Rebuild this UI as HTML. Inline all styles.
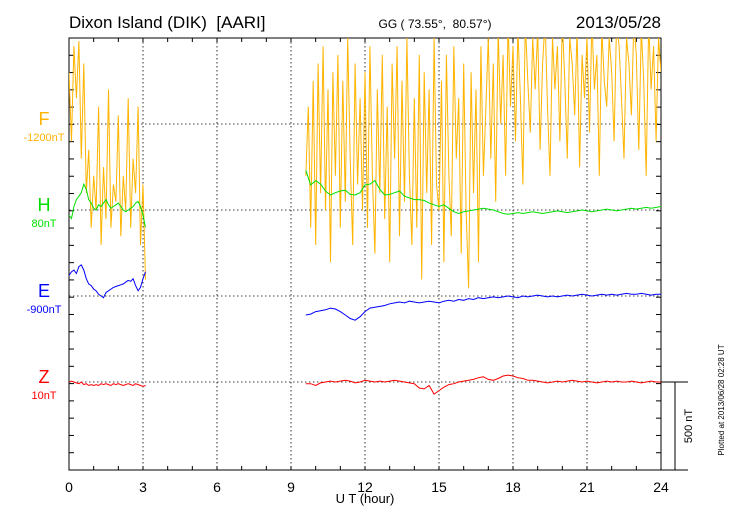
<!DOCTYPE html>
<html><head><meta charset="utf-8"><style>
body{margin:0;background:#fff}
svg{display:block;font-family:"Liberation Sans",sans-serif}
</style></head><body>
<svg id="c" width="730" height="520" viewBox="0 0 730 520" xmlns="http://www.w3.org/2000/svg">
<defs><clipPath id="pa"><rect x="69" y="38" width="592" height="432"/></clipPath></defs>
<text x="69" y="28" font-size="17" xml:space="preserve">Dixon Island (DIK)  [AARI]</text>
<text x="435" y="28" font-size="12" text-anchor="middle" xml:space="preserve">GG ( 73.55°,  80.57°)</text>
<text x="661" y="28" font-size="17" text-anchor="end">2013/05/28</text>
<g id="grid"></g>
<g id="axes"></g>
<g id="series" clip-path="url(#pa)"></g>
<text x="44" y="125" font-size="18" fill="#ffb400" text-anchor="middle">F</text>
<text x="44" y="141" font-size="11" fill="#ffb400" text-anchor="middle">-1200nT</text>
<text x="44" y="211" font-size="18" fill="#00e000" text-anchor="middle">H</text>
<text x="44" y="227" font-size="11" fill="#00e000" text-anchor="middle">80nT</text>
<text x="44" y="297" font-size="18" fill="#0000ff" text-anchor="middle">E</text>
<text x="44" y="313" font-size="11" fill="#0000ff" text-anchor="middle">-900nT</text>
<text x="44" y="383" font-size="18" fill="#ff0000" text-anchor="middle">Z</text>
<text x="44" y="399" font-size="11" fill="#ff0000" text-anchor="middle">10nT</text>
<text x="365" y="503" font-size="13" text-anchor="middle">U T (hour)</text>
<text transform="translate(692,426) rotate(-90)" font-size="11" text-anchor="middle">500 nT</text>
<text transform="translate(724,400) rotate(-90)" font-size="8" text-anchor="middle">Plotted at 2013/06/28 02:28 UT</text>
</svg>
<script>
const xTicks=[0,3,6,9,12,15,18,21,24];
const fStart1=0, fStart2=9.6;
const F1=[300,-100,450,150,480,-200,350,-400,-150,-600,-300,-500,100,-700,-250,-550,200,-600,-350,-450,50,-650,-300,-500,150,-600,-200,-400,100,-700,-350,-900];
const F2=[-300,100,-600,250,
-700,350,-400,450,-500,200,-800,300,-300,400,
-600,250,-450,500,-200,-700,350,-350,150,-500,
300,-600,450,-300,-750,200,-400,400,-550,100,
-800,350,-200,450,-650,250,-450,500,-300,-700,
150,-600,400,-900,300,-400,200,-700,500,-350,
-500,250,-800,400,-300,-650,450,-200,150,-750,
350,-500,-950,300,-400,200,-800,450,-300,100,
500,-200,350,-450,550,0,400,-300,600,100,
450,-100,550,150,-350,600,250,-50,500,200,
550,-150,350,600,100,-300,500,200,450,-100,
600,250,-200,500,350,50,550,-250,400,150,
500,-50,600,200,400,-300,550,250,100,500,
300,-100,600,450,150,-200,500,350,50,600,
400,-150,550,250,-300,600,200,450,-100,500,300];
const H1=[-30,-50,20,60,80,100,150,120,60,40,10,0,30,20,40,60,30,10,20,30,40,20,0,-10,0,10,20,40,50,20,-30,-100];
const H2=[230,145,170,150,110,87,100,110,115,90,87,100,145,150,170,120,87,90,100,110,80,70,60,60,55,40,30,20,30,10,-10,-20,-10,-5,0,5,10,5,0,-10,-20,-25,-20,-15,-20,-15,-10,-15,-20,-15,-10,-5,-10,-15,-10,-5,0,-5,-10,-5,0,5,0,-5,0,5,10,5,10,15,10,15,20];
const E1=[120,140,150,130,170,180,150,100,70,60,40,30,10,0,-10,20,30,40,50,55,60,65,70,80,90,85,100,60,30,50,100,140];
const E2=[-110,-105,-90,-85,-80,-70,-75,-90,-110,-130,-140,-120,-90,-70,-65,-60,-55,-45,-40,-35,-40,-30,-35,-40,-35,-30,-35,-40,-30,-25,-30,-20,-25,-15,-20,-10,-15,-10,-5,-10,-5,0,-5,-10,0,-5,0,5,0,-5,0,-5,0,5,0,5,10,5,0,5,10,5,10,5,10,15,10,10,15,10,5,10,10];
const Z1=[0,5,0,-5,-10,0,-15,-10,-20,-15,-20,-15,-20,-10,-15,-10,-15,-20,-10,-15,-10,-15,-20,-15,-10,-15,-20,-10,-15,-20,-25,-20];
const Z2=[-10,-10,-20,-5,0,5,0,5,10,5,-5,0,10,5,0,5,0,5,10,5,0,-5,-10,-35,-40,-20,-70,-50,-30,-15,-10,0,5,10,15,25,30,15,10,20,35,40,35,25,20,10,10,5,0,-5,0,5,0,5,10,5,0,5,0,-5,0,5,0,5,0,0,5,0,-5,0,5,0,0];
const NS="http://www.w3.org/2000/svg";
const X0=69,X1=661,Y0=38,Y1=470,PXNT=86.4/500;
const xs=h=>X0+h/24*(X1-X0);
const ys=(base,v)=>base-v*PXNT;
function mk(tag,attrs,parent){const e=document.createElementNS(NS,tag);for(const k in attrs)e.setAttribute(k,attrs[k]);parent.appendChild(e);return e;}
const grid=document.getElementById('grid'),axes=document.getElementById('axes'),ser=document.getElementById('series');
const bases=[124,210,296,382];
bases.forEach(b=>{const l=mk('line',{x1:X0,x2:X1,y1:b,y2:b,stroke:'#000','stroke-width':0.8,'stroke-dasharray':'1.5,2.5'},grid);

});
xTicks.slice(1,-1).forEach(t=>{const l=mk('line',{x1:xs(t),x2:xs(t),y1:Y0,y2:Y1,stroke:'#000','stroke-width':0.8,'stroke-dasharray':'1.5,2.5'},grid);

});
const frame=mk('path',{d:`M${X0},${Y0}H${X1}V${Y1}H${X0}Z M${X1},382H688 M${X1},${Y1}H688 M675,382V${Y1}`,fill:'none',stroke:'#000','stroke-width':1},axes);


for(let h=0;h<=24;h++){const x=xs(h);
mk('line',{x1:x,x2:x,y1:Y0,y2:Y0+4,stroke:'#000'},axes);mk('line',{x1:x,x2:x,y1:Y1,y2:Y1-4,stroke:'#000'},axes);}
for(let y=Y1;y>=Y0;y-=17.28){mk('line',{x1:X0,x2:X0+5,y1:y,y2:y,stroke:'#000'},axes);mk('line',{x1:X1,x2:X1-5,y1:y,y2:y,stroke:'#000'},axes);}
xTicks.forEach(t=>{const tx=mk('text',{x:xs(t),y:492,'font-size':14,'text-anchor':'middle'},axes);tx.textContent=t;

});
function line(arr,start,step,base,color,name){const pts=arr.map((v,i)=>xs(start+i*step).toFixed(1)+','+ys(base,v).toFixed(1)).join(' ');
const p=mk('polyline',{points:pts,fill:'none',stroke:color,'stroke-width':1},ser);

}
line(F1,fStart1,0.1,124,'#ffb400','f-series-seg1');
line(F2,fStart2,0.1,124,'#ffb400','f-series-seg2');
line(H1,fStart1,0.1,210,'#00e000','h-series-seg1');
line(H2,fStart2,0.2,210,'#00e000','h-series-seg2');
line(E1,fStart1,0.1,296,'#0000ff','e-series-seg1');
line(E2,fStart2,0.2,296,'#0000ff','e-series-seg2');
line(Z1,fStart1,0.1,382,'#ff0000','z-series-seg1');
line(Z2,fStart2,0.2,382,'#ff0000','z-series-seg2');
</script>
</body></html>
